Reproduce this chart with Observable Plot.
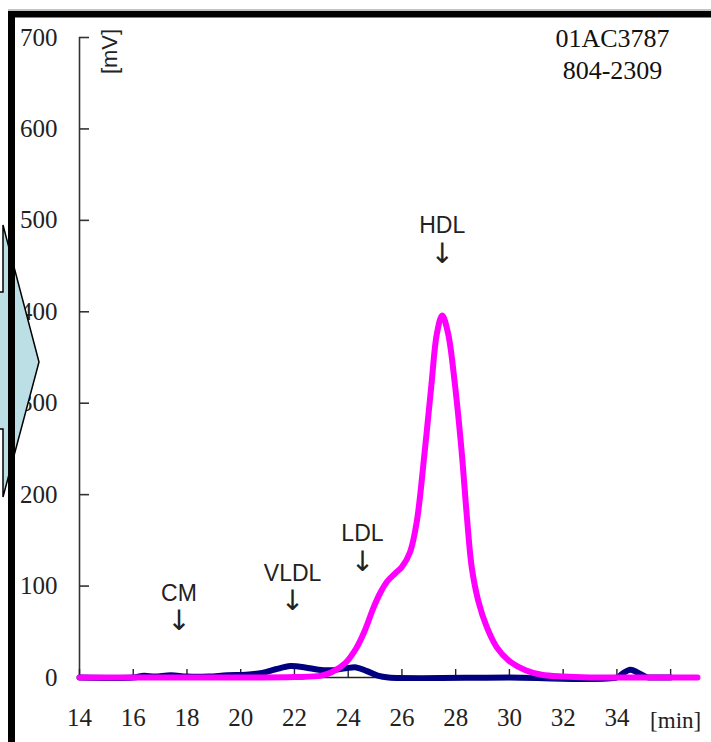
<!DOCTYPE html>
<html>
<head>
<meta charset="utf-8">
<script src="https://cdn.jsdelivr.net/npm/d3@7"></script>
<script src="https://cdn.jsdelivr.net/npm/@observablehq/plot@0.6"></script>
<style>
  html, body { margin: 0; padding: 0; background: #fff; }
  #wrap { position: relative; width: 711px; height: 742px; overflow: hidden; }
  #deco { position: absolute; left: 0; top: 0; pointer-events: none; }
</style>
</head>
<body>
<div id="wrap"></div>
<script>
// Magenta trace (time in min, signal in mV)
const magentaTime = [14, 16, 18, 20, 22, 23, 23.4, 23.9, 24.3, 24.6, 24.95, 25.2, 25.45, 25.75, 26.0, 26.3, 26.55, 26.85, 27.1, 27.3, 27.5, 27.72, 27.97, 28.22, 28.42, 28.6, 28.84, 29.16, 29.53, 30.0, 30.6, 31.2, 32, 33, 35, 37];
const magentaValue = [0, 0, 0, 0, 0.5, 2, 6, 16, 32, 50, 77, 93, 105, 114, 121, 137, 170, 248, 321, 376, 396, 376, 321, 248, 175, 120, 84, 55, 33, 18, 8, 3, 1, 0, 0, 0];
// Navy trace
const navyTime = [14, 16, 16.4, 16.8, 17.4, 18, 18.8, 19.5, 20.2, 20.8, 21.3, 21.85, 22.4, 22.9, 23.4, 23.9, 24.3, 24.7, 25.1, 25.5, 30, 34, 34.2, 34.5, 34.8, 35.1, 35.5, 36];
const navyValue = [0, 0, 2, 1, 2.5, 1, 1, 2.5, 3, 5, 9, 12.5, 11, 8.5, 8, 10, 11, 7, 2, 0, 0, 0, 4, 8.5, 5, 0.5, 0, 0];
// Peak labels
const peakNames = ["CM", "VLDL", "LDL", "HDL"];
const peakX = [17.7, 21.93, 24.53, 27.5];
const peakY = [92, 114, 157, 494];
// Axis ticks
const xTicks = [14, 16, 18, 20, 22, 24, 26, 28, 30, 32, 34, 36];
const xTickLabels = [14, 16, 18, 20, 22, 24, 26, 28, 30, 32, 34];
const yTicks = [0, 100, 200, 300, 400, 500, 600, 700];
const sampleId = ["01AC3787", "804-2309"];

const magenta = magentaTime.map((t, i) => ({t, v: magentaValue[i]}));
const navy = navyTime.map((t, i) => ({t, v: navyValue[i]}));
const peaks = peakNames.map((name, i) => ({name, x: peakX[i], y: peakY[i]}));

const serif = "'Liberation Serif', 'Times New Roman', serif";
const sans = "'Liberation Sans', Arial, sans-serif";

const chart = Plot.plot({
  width: 711,
  height: 742,
  marginLeft: 79,
  marginRight: 14,
  marginTop: 37,
  marginBottom: 65,
  style: {background: "#fff", color: "#222"},
  x: {domain: [14, 37]},
  y: {domain: [0, 700]},
  marks: [
    Plot.ruleY([0], {stroke: "#222", strokeWidth: 1.3}),
    Plot.axisY({ticks: yTicks, tickSize: -10, text: null, stroke: "#333", strokeWidth: 1.6}),
    Plot.axisY({ticks: yTicks, tickSize: 0, tickPadding: 22, fontSize: 25, fontFamily: serif, fill: "#222", label: null}),
    Plot.ruleX([14], {y1: 0, y2: 700, stroke: "#333", strokeWidth: 1.6}),
    Plot.axisX({ticks: xTicks, tickSize: -8, text: null, stroke: "#222", strokeWidth: 1.4}),
    Plot.axisX({ticks: xTickLabels, tickSize: 0, tickPadding: 31, fontSize: 25, fontFamily: serif, fill: "#222", label: null}),
    Plot.text(["[min]"], {x: 36, frameAnchor: "bottom", lineAnchor: "middle", dy: 43, dx: 5, fontSize: 23, fontFamily: serif, fill: "#222", textAnchor: "middle"}),
    Plot.text(["[mV]"], {frameAnchor: "top-left", textAnchor: "middle", lineAnchor: "middle", dx: 30, dy: 14, rotate: -90, fontSize: 22, fontFamily: sans, fill: "#222"}),
    Plot.text([sampleId.join("\n")], {frameAnchor: "top-right", dx: -85, dy: -13, lineAnchor: "top", textAnchor: "middle", lineHeight: 1.23, fontSize: 26, fontFamily: serif, fill: "#111"}),
    Plot.text(peaks, {x: "x", y: "y", text: "name", fontSize: 23, fontFamily: sans, fill: "#222"}),
    Plot.text(peaks, {x: "x", y: "y", text: () => "\u2193", dy: 28, fontSize: 28, fontFamily: "'DejaVu Sans'", fill: "#222"}),
    Plot.line(navy, {x: "t", y: "v", stroke: "#000080", strokeWidth: 6, curve: "catmull-rom"}),
    Plot.line(magenta, {x: "t", y: "v", stroke: "#ff00ff", strokeWidth: 6, curve: "catmull-rom"})
  ]
});

const wrap = document.getElementById("wrap");
wrap.appendChild(chart);

// Decorative callout arrow and black frame edges (not data)
const ns = "http://www.w3.org/2000/svg";
const deco = document.createElementNS(ns, "svg");
deco.setAttribute("id", "deco");
deco.setAttribute("width", 711);
deco.setAttribute("height", 742);
deco.innerHTML = `
  <polygon points="-5,292 3,292 3,225 39,362 3,497 3,429 -5,429" fill="#bcdfe5" stroke="#000" stroke-width="1.5"/>
  <rect x="8" y="11" width="7" height="740" fill="#000"/>
  <rect x="8" y="11" width="710" height="6.5" fill="#000"/>
  <line x1="8" y1="10" x2="711" y2="10" stroke="#888" stroke-width="1"/>
`;
wrap.appendChild(deco);
</script>
</body>
</html>
